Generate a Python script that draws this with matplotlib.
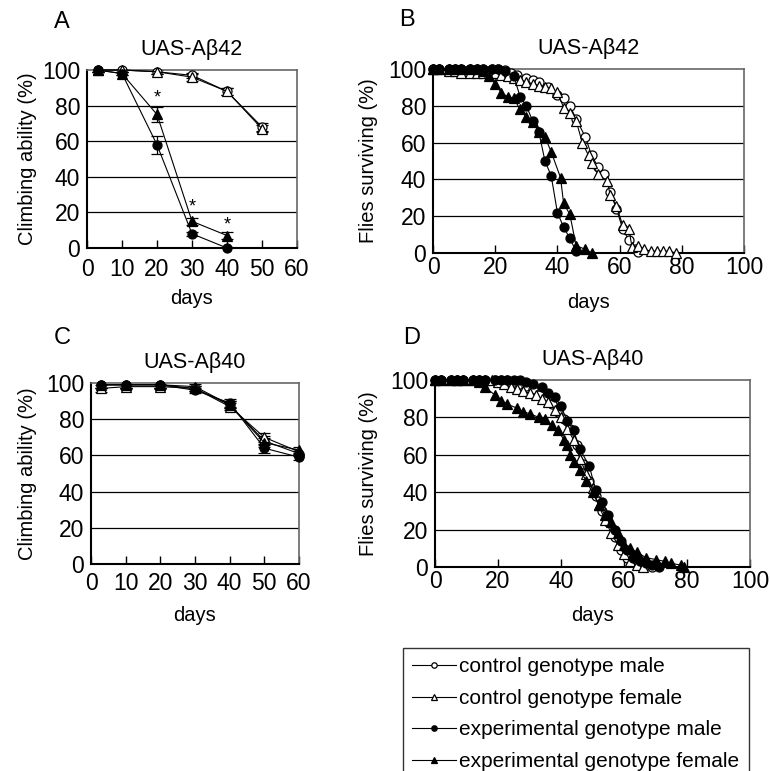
import matplotlib
matplotlib.use('Agg')
import matplotlib.pyplot as plt
from matplotlib.lines import Line2D

plt.rcParams['font.family'] = ['Liberation Sans', 'DejaVu Sans']

# --- A: climbing, UAS-Abeta42 ---
a_days_ctrl = [3, 10, 20, 30, 40, 50]
a_ctrl_male = [100, 100, 99, 97, 88, 68]
a_ctrl_male_err = [1, 1, 1, 1.5, 2, 2]
a_ctrl_female = [100, 100, 99, 96, 88, 67]
a_ctrl_female_err = [1, 1, 1, 2, 2, 2]
a_days_exp = [3, 10, 20, 30, 40]
a_exp_male = [100, 98, 58, 8, 0]
a_exp_male_err = [1, 1, 5, 1, 0.5]
a_exp_female = [100, 98, 75, 15, 7]
a_exp_female_err = [1, 1, 4, 2, 2]
a_star_days = [20, 30, 40]
a_star_y = [84, 23, 13]

# --- B: survival, UAS-Abeta42 ---
b_ctrl_male_d = [0, 2, 5, 7, 9, 12, 14, 16, 19, 21, 23, 25, 27, 30, 32, 34, 37, 40, 42, 44,
                 46, 49, 51, 53, 55, 57, 59, 61, 63, 65, 66]
b_ctrl_male = [100, 100, 100, 100, 100, 100, 100, 100, 100, 100, 99.5, 98, 97, 95, 94, 93, 90, 86, 84, 80,
               73, 63, 53, 47, 43, 33, 24, 13, 7, 2, 0.5]
b_ctrl_female_d = [0, 2, 5, 7, 9, 12, 14, 16, 18, 20, 22, 24, 26, 28, 30, 32, 34, 36, 38, 40,
                   42, 44, 46, 48, 50, 51, 53, 56, 57, 59, 61, 63, 64, 66, 68, 70, 72, 74, 76, 78]
b_ctrl_female = [100, 100, 99, 99, 98, 98, 98, 98, 98, 98, 97, 96, 95, 94, 93, 92, 91, 90, 89.5, 87.5,
                 79, 76, 72, 60, 53, 49, 43, 39, 31.5, 25.5, 15, 13, 3, 4, 2, 1, 1, 1, 1, 0]
b_exp_male_d = [0, 2, 5, 7, 9, 12, 14, 16, 19, 21, 23, 26, 28, 30, 32, 34, 36, 38, 40, 42, 44, 46]
b_exp_male = [100, 100, 100, 100, 100, 100, 100, 100, 100, 100, 99, 96, 85, 80, 72, 66, 50, 42, 22, 14, 8, 1]
b_exp_female_d = [0, 2, 5, 7, 9, 12, 14, 16, 18, 20, 22, 24, 26, 28, 30, 32, 34, 36, 38, 41,
                  42, 44, 46, 49, 51]
b_exp_female = [100, 100, 100, 100, 100, 100, 100, 99, 96, 92, 87, 85, 84, 78, 74, 71, 66, 63, 55, 41,
                27, 21, 4, 2, 0]

# --- C: climbing, UAS-Abeta40 ---
c_days = [3, 10, 20, 30, 40, 50, 60]
c_ctrl_male = [99, 99, 99, 97, 88, 68, 61]
c_ctrl_female = [97, 98, 98, 97, 87, 70, 62]
c_exp_male = [99, 99, 99, 96, 89, 64, 59]
c_exp_female = [99, 99, 99, 98, 88, 67, 63]
c_err = [2, 1.5, 1.5, 1.5, 2, 2.5, 1.5]

# --- D: survival, UAS-Abeta40 ---
d_ctrl_male_d = [0, 2, 5, 7, 9, 12, 14, 16, 19, 21, 23, 25, 27, 29, 31, 33, 35, 37, 39, 41,
                 43, 45, 47, 49, 51, 53, 55, 57, 59, 61, 63, 65, 67, 69]
d_ctrl_male = [100, 100, 100, 100, 100, 100, 100, 100, 100, 100, 100, 99, 98, 97, 95, 92, 90, 87, 83, 79,
               74, 65, 55, 46, 38, 30, 24, 16, 9, 5, 3, 1, 1, 0]
d_ctrl_female_d = [0, 2, 5, 7, 9, 12, 14, 16, 18, 20, 22, 24, 26, 28, 30, 32, 34, 36, 38, 40,
                   42, 44, 46, 48, 50, 52, 54, 56, 58, 60, 62, 64, 66]
d_ctrl_female = [100, 100, 100, 100, 100, 100, 100, 100, 100, 99, 98, 96, 95, 94, 93, 92, 90, 88, 84, 80,
                 74, 68, 58, 50, 42, 33, 25, 18, 12, 7, 3, 1, 0]
d_exp_male_d = [0, 2, 5, 7, 9, 12, 14, 16, 19, 21, 23, 25, 27, 29, 31, 34, 36, 38, 40, 42,
                44, 46, 49, 51, 53, 55, 57, 59, 61, 63, 65, 67, 69, 71]
d_exp_male = [100, 100, 100, 100, 100, 100, 100, 100, 100, 100, 100, 100, 100, 99, 98, 96, 93, 91, 86, 78,
              73, 63, 54, 41, 35, 28, 20, 14, 9, 5, 3, 2, 1, 0]
d_exp_female_d = [0, 2, 5, 7, 9, 12, 14, 16, 19, 21, 23, 26, 28, 30, 33, 35, 37, 39, 41, 42,
                  43, 44, 46, 48, 50, 52, 54, 56, 58, 60, 62, 64, 67, 70, 73, 75, 78, 79]
d_exp_female = [100, 100, 100, 100, 100, 100, 99, 96, 92, 89, 87, 85, 83, 82, 80, 79, 76, 73, 68, 65,
                60, 56, 52, 46, 40, 33, 28, 24, 18, 12, 10, 8, 5, 4, 3, 2, 1, 0]

labels = ['control genotype male', 'control genotype female',
          'experimental genotype male', 'experimental genotype female']

W, H = 770, 771
FS = 14.5     # axis labels
TTL = 15.5    # panel titles
TFS = 16.5    # tick labels
LFS = 15      # legend

# styles: (marker, facecolor, size)
sty = [('o', 'white', 6.5), ('^', 'white', 7.5), ('o', 'black', 6.5), ('^', 'black', 7.5)]


def px_axes(fig, l, t, r, b):
    return fig.add_axes([l / W, 1 - b / H, (r - l) / W, (b - t) / H])


def style(ax, xmax, xstep, ylabel, title, letter, lx, ly, xpad, ylab_x, xlab_y):
    ax.set_xlim(0, xmax)
    ax.set_ylim(0, 100)
    ax.set_xticks(range(0, xmax + 1, xstep))
    ax.set_yticks(range(0, 101, 20))
    for y in (20, 40, 60, 80):
        ax.axhline(y, color='black', lw=0.9, zorder=0)
    for s in ('top', 'right'):
        ax.spines[s].set_color('#666666')
        ax.spines[s].set_linewidth(1.2)
    for s in ('left', 'bottom'):
        ax.spines[s].set_color('black')
        ax.spines[s].set_linewidth(1.5)
    ax.tick_params(axis='x', direction='in', length=6, width=1, labelsize=TFS, pad=xpad)
    ax.tick_params(axis='y', length=0, labelsize=TFS, pad=5)
    ax.set_xlabel('days', fontsize=FS)
    ax.set_ylabel(ylabel, fontsize=FS)
    ax.xaxis.set_label_coords(0.5, xlab_y)
    ax.yaxis.set_label_coords(ylab_x, 0.5)
    ax.set_title(title, fontsize=TTL, pad=11)
    ax.figure.text(lx / W, 1 - ly / H, letter, fontsize=17, ha='center', va='center')


def series(ax, x, y, k, err=None):
    m, fc, ms = sty[k]
    if err is not None:
        ax.errorbar(x, y, yerr=err, fmt='none', ecolor='black', elinewidth=0.9,
                    capsize=4, capthick=0.9, zorder=2)
    ax.plot(x, y, color='black', lw=0.8, marker=m, mfc=fc, mec='black', mew=0.9, ms=ms,
            zorder=3, clip_on=False)


fig = plt.figure(figsize=(W / 100, H / 100), dpi=100)

axA = px_axes(fig, 87, 70, 297, 248)
series(axA, a_days_ctrl, a_ctrl_male, 0, a_ctrl_male_err)
series(axA, a_days_ctrl, a_ctrl_female, 1, a_ctrl_female_err)
series(axA, a_days_exp, a_exp_male, 2, a_exp_male_err)
series(axA, a_days_exp, a_exp_female, 3, a_exp_female_err)
for xs, ys in zip(a_star_days, a_star_y):
    axA.text(xs, ys, '*', ha='center', va='center', fontsize=13)
style(axA, 60, 10, 'Climbing ability (%)', 'UAS-Aβ42', 'A', 62, 22, 7, -0.24, -0.23)

axB = px_axes(fig, 433, 69, 744, 253)
series(axB, b_ctrl_male_d, b_ctrl_male, 0)
series(axB, b_ctrl_female_d, b_ctrl_female, 1)
series(axB, b_exp_male_d, b_exp_male, 2)
series(axB, b_exp_female_d, b_exp_female, 3)
style(axB, 100, 20, 'Flies surviving (%)', 'UAS-Aβ42', 'B', 407, 20, 2, -0.177, -0.22)

axC = px_axes(fig, 91, 383, 299, 564)
series(axC, c_days, c_ctrl_male, 0, c_err)
series(axC, c_days, c_ctrl_female, 1, c_err)
series(axC, c_days, c_exp_male, 2, c_err)
series(axC, c_days, c_exp_female, 3, c_err)
style(axC, 60, 10, 'Climbing ability (%)', 'UAS-Aβ40', 'C', 62, 338, 6, -0.26, -0.23)

axD = px_axes(fig, 435, 380, 750, 567)
series(axD, d_ctrl_male_d, d_ctrl_male, 0)
series(axD, d_ctrl_female_d, d_ctrl_female, 1)
series(axD, d_exp_male_d, d_exp_male, 2)
series(axD, d_exp_female_d, d_exp_female, 3)
style(axD, 100, 20, 'Flies surviving (%)', 'UAS-Aβ40', 'D', 412, 338, 2, -0.181, -0.21)

handles = [Line2D([], [], color='black', lw=0.8, marker=m, mfc=fc, mec='black', mew=0.9, ms=ms * 0.6)
           for m, fc, ms in sty]
leg = fig.legend(handles, labels, loc='upper left', bbox_to_anchor=(403 / W, 1 - 648 / H),
                 bbox_transform=fig.transFigure, borderaxespad=0, fancybox=False, framealpha=1,
                 edgecolor='#333333', fontsize=LFS, handlelength=2.1, handletextpad=0.15,
                 labelspacing=0.6, borderpad=0.45)
leg.get_frame().set_linewidth(1.0)

fig.savefig('out.png', dpi=100)
